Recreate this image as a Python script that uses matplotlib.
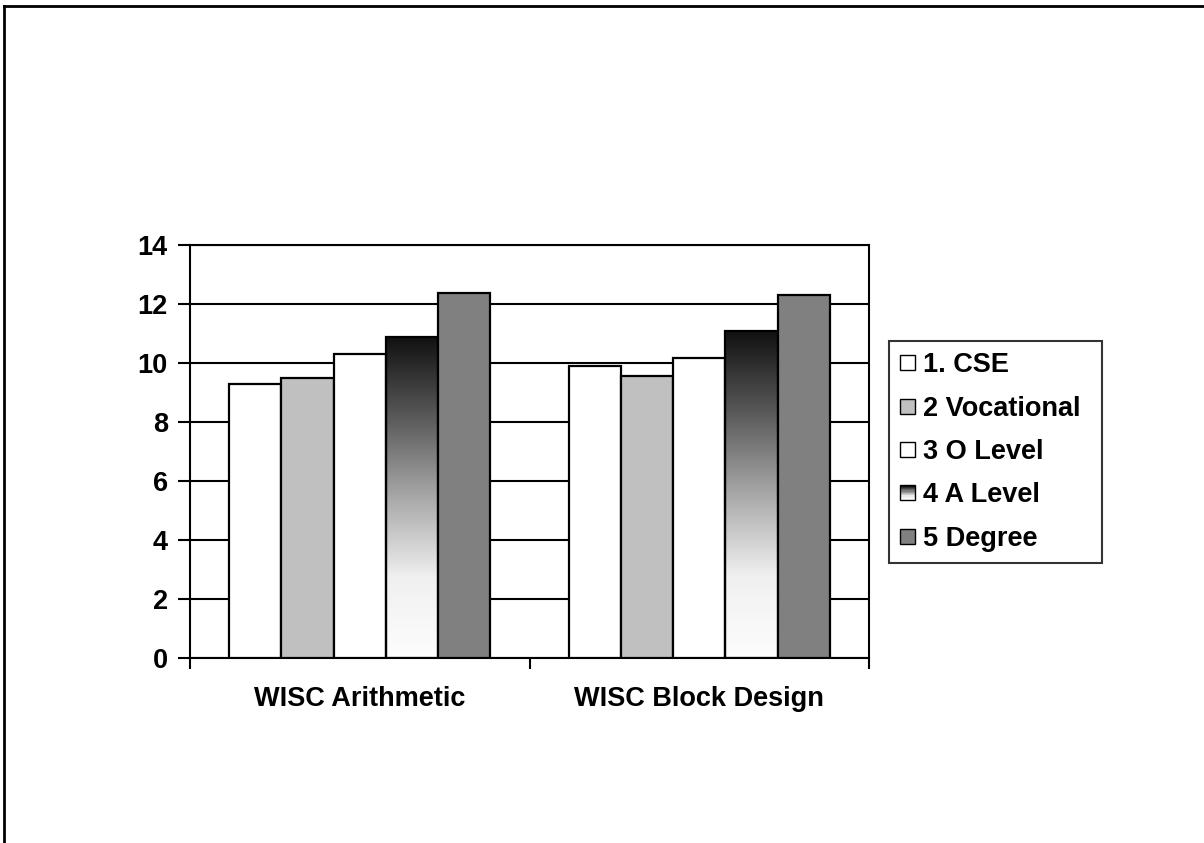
import numpy as np
import matplotlib.pyplot as plt
from matplotlib.patches import Rectangle
from matplotlib.lines import Line2D
from matplotlib.legend_handler import HandlerPatch
from matplotlib.colors import LinearSegmentedColormap

plt.rcParams['font.family'] = ['Liberation Sans', 'DejaVu Sans']
plt.rcParams['font.weight'] = 'bold'

categories = ['WISC Arithmetic', 'WISC Block Design']
series = ['1. CSE', '2 Vocational', '3 O Level', '4 A Level', '5 Degree']
values = [
    [9.29, 9.91],
    [9.49, 9.57],
    [10.32, 10.18],
    [10.87, 11.08],
    [12.36, 12.29],
]
fills = ['white', '#c0c0c0', 'white', 'gradient', '#808080']

FS = 19.5

# dark-at-top, light-at-bottom fill used by the A Level series
grad_cmap = LinearSegmentedColormap.from_list('alevel', ['#fdfdfd', '#f0f0f0', '#a8a8a8', '#5a5a5a', '#111111'])


class GradientHandler(HandlerPatch):
    def create_artists(self, legend, orig_handle, xdescent, ydescent, width, height, fontsize, trans):
        side = min(width, height)
        x0 = -xdescent + (width - side) / 2
        y0 = -ydescent + (height - side) / 2
        n = 12
        arts = []
        for k in range(n):
            c = grad_cmap(k / (n - 1))
            arts.append(Rectangle((x0, y0 + side * k / n), side, side / n + 0.3,
                                  facecolor=c, edgecolor='none', transform=trans))
        arts.append(Rectangle((x0, y0), side, side, facecolor='none',
                              edgecolor='black', lw=1.0, transform=trans))
        return arts


class SquareHandler(HandlerPatch):
    def create_artists(self, legend, orig_handle, xdescent, ydescent, width, height, fontsize, trans):
        side = min(width, height)
        x0 = -xdescent + (width - side) / 2
        y0 = -ydescent + (height - side) / 2
        r = Rectangle((x0, y0), side, side, facecolor=orig_handle.get_facecolor(),
                      edgecolor='black', lw=1.0, transform=trans)
        return [r]


fig = plt.figure(figsize=(12.04, 8.43), dpi=100)
ax = fig.add_axes([0.1578, 0.2195, 0.564, 0.4899])

x = np.arange(len(categories))
w = 1 / 6.5
handles = []
for i, name in enumerate(series):
    pos = x + (i - 2) * w
    if fills[i] == 'gradient':
        bars = ax.bar(pos, values[i], w, facecolor='none', edgecolor='black', lw=1.6, zorder=3)
        grad = np.linspace(0, 1, 256).reshape(-1, 1)
        for b in bars:
            x0, y0 = b.get_x(), b.get_y()
            h = b.get_height()
            im = ax.imshow(grad, cmap=grad_cmap, origin='lower', aspect='auto',
                           extent=[x0, x0 + w, y0, y0 + h], zorder=2.5)
            im.set_clip_path(b)
        handles.append(Rectangle((0, 0), 1, 1, label=name))
    else:
        ax.bar(pos, values[i], w, color=fills[i], edgecolor='black', lw=1.6, zorder=3)
        handles.append(Rectangle((0, 0), 1, 1, facecolor=fills[i], label=name))

ax.set_xlim(-0.5, 1.5)
ax.set_ylim(0, 14)
ax.set_yticks(np.arange(0, 15, 2))
ax.tick_params(axis='y', labelsize=FS, width=1.5, length=9, direction='out', pad=7)
ax.set_xticks([-0.5, 0.5, 1.5])
ax.set_xticklabels([])
ax.tick_params(axis='x', width=1.5, length=8, direction='out')
for c, lab in zip(x, categories):
    ax.text(c, -0.95, lab, ha='center', va='top', fontsize=FS, fontweight='bold')
ax.grid(axis='y', color='black', lw=1.5, zorder=1)
ax.set_axisbelow(True)
for s in ax.spines.values():
    s.set_linewidth(1.5)

handler_map = {handles[3]: GradientHandler()}
for j, hnd in enumerate(handles):
    if j != 3:
        handler_map[hnd] = SquareHandler()
leg = fig.legend(handles=handles, loc='upper left', bbox_to_anchor=(0.7384, 0.3333, 0.1769, 0.2622),
                 mode='expand', fontsize=FS, frameon=True, fancybox=False, edgecolor='black',
                 handlelength=0.55, handleheight=0.55, handletextpad=0.3,
                 labelspacing=0.64, borderpad=0.42, borderaxespad=0, handler_map=handler_map)
leg.get_frame().set_linewidth(1.5)

# page border on the top and left edges
fig.add_artist(Line2D([0.0035, 1.0], [0.993, 0.993], color='black', lw=2, transform=fig.transFigure))
fig.add_artist(Line2D([0.0035, 0.0035], [0.0, 0.993], color='black', lw=2, transform=fig.transFigure))

fig.savefig('out.png', dpi=100)
